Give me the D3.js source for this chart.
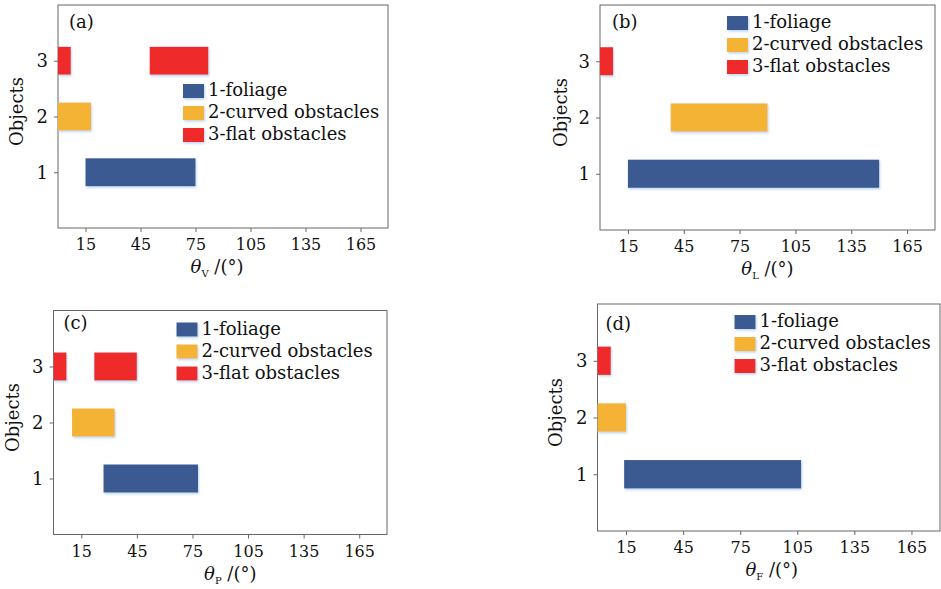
<!DOCTYPE html>
<html>
<head>
<meta charset="utf-8">
<script src="https://cdn.jsdelivr.net/npm/d3@7"></script>
<style>
  body { margin: 0; background: #fff; }
  svg { display: block; font-family: "DejaVu Serif", serif; }
</style>
</head>
<body>
<svg id="chart" width="941" height="589"></svg>
<script>
// categories / legend
const categories = ["1-foliage", "2-curved obstacles", "3-flat obstacles"];
const colors = ["#3b5a92", "#f5b335", "#ee2a2b"];
const yTicks = [1, 2, 3];
const xTicks = [15, 45, 75, 105, 135, 165];
const panelLabels = ["(a)", "(b)", "(c)", "(d)"];
const thetaSubs = ["V", "L", "P", "F"];

// angle ranges per object: [object, start, end]
const rangesV = [[1, 15, 75], [2, 0, 18], [3, 0, 7], [3, 50, 82]];
const rangesL = [[1, 15, 150], [2, 38, 90], [3, 0, 7]];
const rangesP = [[1, 27, 78], [2, 10, 33], [3, 0, 7], [3, 22, 45]];
const rangesF = [[1, 14, 107], [2, 0, 15], [3, 0, 7]];
const allRanges = [rangesV, rangesL, rangesP, rangesF];

// layout of the four panels (pixels)
const panels = [
  { l: 58, r: 388, t: 5, b: 228, leg: [125, 86], lab: [11, 18], yt: 18, xt: -6 },
  { l: 600, r: 935, t: 5, b: 230, leg: [127, 18], lab: [12, 18], yt: 562, xt: 0 },
  { l: 53.5, r: 387, t: 310.5, b: 534.5, leg: [123, 19], lab: [10, 13], yt: 14, xt: 10 },
  { l: 597.5, r: 940, t: 304, b: 531, leg: [137, 18], lab: [8, 21], yt: 557, xt: 3 }
];

const svg = d3.select("#chart");

const defs = svg.append("defs");
defs.append("filter")
    .attr("id", "glow")
    .attr("x", "-10%").attr("y", "-20%")
    .attr("width", "120%").attr("height", "150%")
  .append("feDropShadow")
    .attr("dx", 1).attr("dy", 1.5)
    .attr("stdDeviation", 1)
    .attr("flood-color", "#9ec3e6")
    .attr("flood-opacity", 0.7);

panels.forEach((p, i) => {
    let x = d3.scaleLinear().domain([0, 180]).range([p.l, p.r]);
    let y = d3.scaleLinear().domain([0, 4]).range([p.b, p.t]);
    let g = svg.append("g");

    // frame
    g.append("rect")
        .attr("x", p.l).attr("y", p.t)
        .attr("width", p.r - p.l).attr("height", p.b - p.t)
        .attr("fill", "none")
        .attr("stroke", "#666")
        .attr("stroke-width", 1);

    // bars
    let bh = y(0) - y(0.5);
    g.selectAll("rect.bar")
        .data(allRanges[i])
        .join("rect")
        .attr("class", "bar")
        .attr("x", d => x(d[1]))
        .attr("y", d => y(d[0]) - bh / 2)
        .attr("width", d => x(d[2]) - x(d[1]))
        .attr("height", bh)
        .attr("fill", d => colors[d[0] - 1])
        .attr("filter", "url(#glow)");

    // axes
    let xa = g.append("g")
        .attr("transform", `translate(0,${p.b})`)
        .call(d3.axisBottom(x).tickValues(xTicks).tickSize(4).tickPadding(7));
    let ya = g.append("g")
        .attr("transform", `translate(${p.l},0)`)
        .call(d3.axisLeft(y).tickValues(yTicks).tickFormat(d3.format("d")).tickSize(4).tickPadding(6));
    [xa, ya].forEach(a => {
        a.select(".domain").remove();
        a.selectAll("line").attr("stroke", "#666");
        a.selectAll("text")
            .attr("fill", "#111")
            .style("font-family", "DejaVu Serif, serif")
            .style("font-size", "16px");
    });
    ya.selectAll("text").style("font-size", "18px");

    // panel label
    g.append("text")
        .attr("x", p.l + p.lab[0])
        .attr("y", p.t + p.lab[1])
        .attr("dominant-baseline", "middle")
        .attr("font-size", 18)
        .attr("fill", "#111")
        .text(panelLabels[i]);

    // legend
    let lg = g.append("g")
        .attr("transform", `translate(${p.l + p.leg[0]},${p.t + p.leg[1]})`);
    categories.forEach((c, k) => {
        lg.append("rect")
            .attr("x", 0).attr("y", k * 22 - 7)
            .attr("width", 21).attr("height", 14)
            .attr("fill", colors[k])
            .attr("filter", "url(#glow)");
        lg.append("text")
            .attr("x", 25).attr("y", k * 22)
            .attr("dominant-baseline", "middle")
            .attr("font-size", 18)
            .attr("fill", "#111")
            .text(c);
    });

    // y title
    g.append("text")
        .attr("transform", `translate(${p.yt},${(p.t + p.b) / 2 - 5}) rotate(-90)`)
        .attr("text-anchor", "middle")
        .attr("dominant-baseline", "middle")
        .attr("font-size", 18)
        .attr("fill", "#111")
        .text("Objects");

    // x title
    let xt = g.append("text")
        .attr("x", (p.l + p.r) / 2 + p.xt)
        .attr("y", p.b + 45)
        .attr("text-anchor", "middle")
        .attr("font-size", 18)
        .attr("fill", "#111");
    xt.append("tspan").attr("font-style", "italic").text("θ");
    xt.append("tspan").attr("font-size", 10).attr("dy", 4).text(thetaSubs[i]);
    xt.append("tspan").attr("dy", -4).text(" /(°)");
});
</script>
</body>
</html>
